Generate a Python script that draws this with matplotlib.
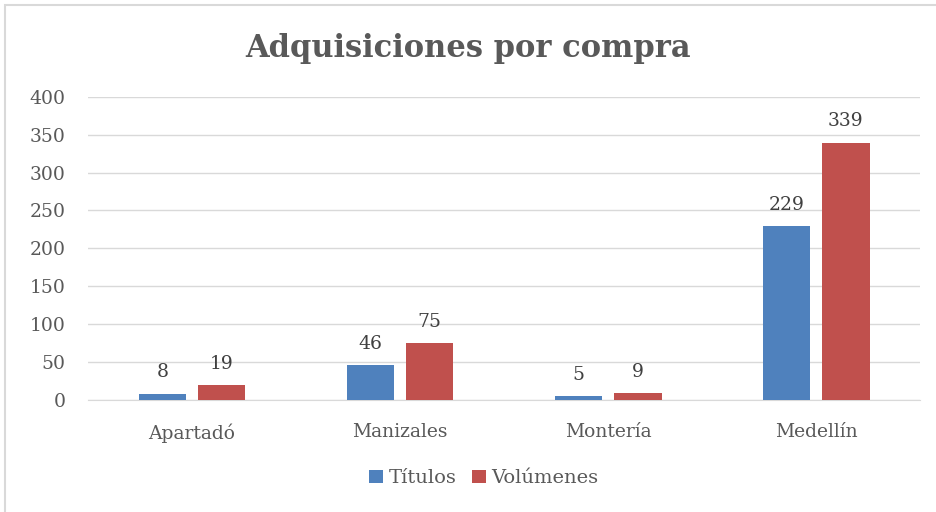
import matplotlib
matplotlib.use("Agg")
import matplotlib.pyplot as plt
import numpy as np
from matplotlib.patches import Rectangle

categories = ["Apartadó", "Manizales", "Montería", "Medellín"]
titulos = [8, 46, 5, 229]
volumenes = [19, 75, 9, 339]
yticks = [0, 50, 100, 150, 200, 250, 300, 350, 400]

plt.rcParams['font.family'] = ['DejaVu Serif']
txt = '#595959'

fig = plt.figure(figsize=(9.36, 5.12), dpi=100)
ax = fig.add_axes([0.094, 0.219, 0.889, 0.592])

x = np.arange(len(categories))
w = 0.23
off = 0.142
b1 = ax.bar(x - off, titulos, w, color='#4F81BD', label='Títulos', zorder=3)
b2 = ax.bar(x + off, volumenes, w, color='#C0504D', label='Volúmenes', zorder=3)

for bars, vals in ((b1, titulos), (b2, volumenes)):
    for r, v in zip(bars, vals):
        ax.annotate(str(v), (r.get_x() + r.get_width() / 2, v), xytext=(0, 9),
                    textcoords='offset points', ha='center', va='bottom',
                    fontsize=13.5, color='#404040')

ax.set_xlim(-0.5, 3.5)
ax.set_ylim(0, 400)
ax.set_yticks(yticks)
ax.set_xticks(x)
ax.set_xticklabels(categories)
ax.tick_params(axis='both', length=0, labelsize=13.5, colors=txt)
ax.tick_params(axis='x', pad=17)
ax.tick_params(axis='y', pad=16)
ax.grid(axis='y', color='#D9D9D9', linewidth=1, zorder=0)
for s in ['top', 'right', 'left']:
    ax.spines[s].set_visible(False)
ax.spines['bottom'].set_color('#D9D9D9')

fig.text(0.5, 0.905, "Adquisiciones por compra", ha='center', va='center',
         fontsize=22, fontweight='bold', color=txt)

fig.legend(handles=[b1, b2], loc='center', bbox_to_anchor=(0.517, 0.066), ncol=2,
           frameon=False, fontsize=14, labelcolor=txt, handlelength=0.7,
           handleheight=0.7, handletextpad=0.3, columnspacing=0.8)

fig.patches.append(Rectangle((5 / 936, -0.1), 1.0, 1.0 - 5 / 512 + 0.1, transform=fig.transFigure,
                             fill=False, edgecolor='#D9D9D9', linewidth=1.5))

fig.savefig("out.png", dpi=100)
